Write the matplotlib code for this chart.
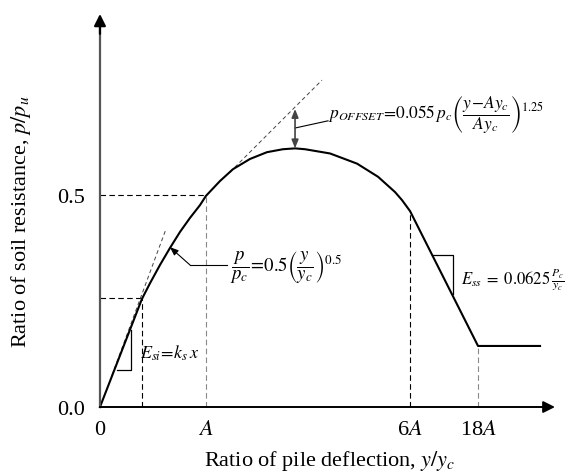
import matplotlib
matplotlib.use('Agg')
import matplotlib.pyplot as plt

plt.rcParams['font.family'] = ['Liberation Serif', 'DejaVu Serif']
plt.rcParams['mathtext.fontset'] = 'stix'

# Schematic p-y backbone curve (y/yc scaled so that A = 1)
curve_x = [0.0, 0.396, 0.472, 0.566, 0.660, 0.755, 0.849, 0.943, 1.0, 1.132, 1.255,
           1.415, 1.575, 1.726, 1.840, 1.934, 2.170, 2.425, 2.623, 2.783, 2.849, 2.925,
           3.566, 4.151]
curve_y = [0.0, 0.255, 0.292, 0.335, 0.375, 0.413, 0.446, 0.476, 0.498, 0.533, 0.561,
           0.585, 0.601, 0.608, 0.610, 0.608, 0.598, 0.574, 0.543, 0.507, 0.488, 0.462,
           0.144, 0.144]

# key points of the curve
x_lin, y_lin = 0.396, 0.257      # end of linear part
x_A, y_A = 1.0, 0.5              # y = A*yc
x_6A, y_6A = 2.925, 0.462        # y = 6A*yc
x_18A, y_18A = 3.566, 0.144      # y = 18A*yc

x_ticks = [0, x_A, x_6A, x_18A]
x_ticklabels = ['0', '$A$', '6$A$', '18$A$']
y_ticks = [0.0, 0.5]
y_ticklabels = ['0.0', '0.5']

# tangent lines
tan1_x = [0.113, 0.623]
tan1_y = [0.075, 0.420]
tan2_x = [1.226, 2.094]
tan2_y = [0.554, 0.771]

# offset at the peak
x_peak, y_peak, y_tan = 1.840, 0.610, 0.703

fig = plt.figure(figsize=(5.71, 4.77), dpi=100)
ax = fig.add_axes([0, 0, 1, 1])
ax.set_xlim(-0.943, 4.443)
ax.set_ylim(-0.1627, 0.9623)
ax.patch.set_visible(False)

# axes through the origin
for side in ['top', 'right']:
    ax.spines[side].set_visible(False)
ax.spines['left'].set_position(('data', 0))
ax.spines['left'].set_bounds(0, 0.90)
ax.spines['left'].set_color('#555555')
ax.spines['left'].set_linewidth(1.6)
ax.spines['bottom'].set_position(('data', 0))
ax.spines['bottom'].set_bounds(0, 4.2)
ax.spines['bottom'].set_linewidth(1.4)

ax.annotate('', xy=(0, 0.927), xytext=(0, 0.88),
            arrowprops=dict(arrowstyle='-|>,head_length=0.7,head_width=0.35',
                            color='black', lw=1.6, shrinkA=0, shrinkB=0))
ax.annotate('', xy=(4.292, 0), xytext=(4.18, 0),
            arrowprops=dict(arrowstyle='-|>,head_length=0.7,head_width=0.35',
                            color='black', lw=1.4, shrinkA=0, shrinkB=0))

ax.set_xticks(x_ticks)
ax.set_xticklabels(x_ticklabels)
ax.set_yticks(y_ticks)
ax.set_yticklabels(y_ticklabels)
ax.tick_params(axis='x', length=0, pad=9, labelsize=16)
ax.tick_params(axis='y', length=0, pad=11, labelsize=16)

ax.set_xlabel('Ratio of pile deflection, $y/y_c$', fontsize=16)
ax.set_ylabel('Ratio of soil resistance, $p/p_u$', fontsize=16)
ax.xaxis.set_label_coords(0.578, 0.059)
ax.yaxis.set_label_coords(0.057, 0.535)

# guide lines
dash = dict(lw=0.8, dashes=(5, 3))
ax.plot([0, x_A], [y_A, y_A], color='black', **dash)
ax.plot([x_A, x_A], [0, y_A], color='#888888', **dash)
ax.plot([0, x_lin], [y_lin, y_lin], color='black', **dash)
ax.plot([x_lin, x_lin], [0, y_lin], color='black', **dash)
ax.plot([x_6A, x_6A], [0, y_6A], color='black', **dash)
ax.plot([x_18A, x_18A], [0, y_18A], color='#888888', **dash)
ax.plot(tan1_x, tan1_y, color='#444444', lw=0.7, dashes=(4, 3))
ax.plot(tan2_x, tan2_y, color='#444444', lw=0.7, dashes=(4, 3))

# backbone curve
ax.plot(curve_x, curve_y, color='black', lw=1.5, solid_joinstyle='round')

# slope triangles
ax.plot([0.160, 0.292, 0.292], [0.087, 0.087, 0.181], color='black', lw=0.9)
ax.plot([3.132, 3.330, 3.330], [0.358, 0.358, 0.267], color='black', lw=0.9)

# p_offset arrow and leader
ax.annotate('', xy=(x_peak, y_tan), xytext=(x_peak, y_peak),
            arrowprops=dict(arrowstyle='<|-|>,head_length=0.5,head_width=0.2',
                            color='#444444', lw=1.2, shrinkA=0, shrinkB=0))
ax.plot([x_peak, 2.151], [0.658, 0.675], color='black', lw=0.8)

# leader to the power-law branch
ax.plot([1.198, 0.849], [0.335, 0.335], color='black', lw=0.8)
ax.annotate('', xy=(0.660, 0.377), xytext=(0.849, 0.335),
            arrowprops=dict(arrowstyle='-|>,head_length=0.5,head_width=0.2',
                            color='black', lw=0.8, shrinkA=0, shrinkB=0))

ax.text(2.15, 0.691, r'$p_{OFFSET}\!=\!0.055\,p_c\left(\dfrac{y\!-\!Ay_c}{Ay_c}\right)^{1.25}$',
        fontsize=12.5, ha='left', va='center')
ax.text(1.226, 0.333, r'$\dfrac{p}{p_c}\!=\!0.5\left(\dfrac{y}{y_c}\right)^{0.5}$',
        fontsize=13.5, ha='left', va='center')
ax.text(0.377, 0.130, r'$E_{si}\!=\!k_s\,x$', fontsize=13, ha='left', va='center')
ax.text(3.41, 0.302, r'$E_{ss}\;=\;\mathrm{0.0625}\,\frac{P_c}{y_c}$',
        fontsize=12, ha='left', va='center')

fig.savefig('out.png', dpi=100)
